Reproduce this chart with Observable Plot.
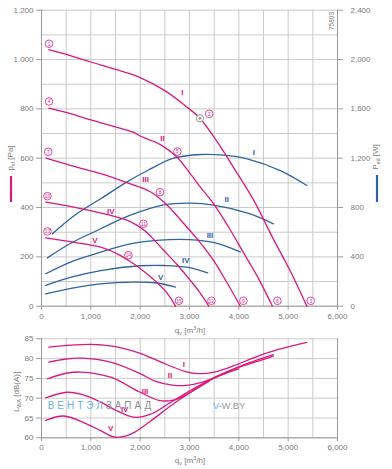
<!DOCTYPE html>
<html><head><meta charset="utf-8">
<script src="https://cdn.jsdelivr.net/npm/d3@7"></script>
<script src="https://cdn.jsdelivr.net/npm/@observablehq/plot@0.6"></script>
<style>
html,body{margin:0;padding:0;background:#fff;}
#wrap{position:relative;width:392px;height:469px;overflow:hidden;font-family:"Liberation Sans",Arial,sans-serif;}
#wrap svg{position:absolute;left:0;}
</style></head><body><div id="wrap"></div>
<script>
// ---------- data ----------
const xTicks = [0,1000,2000,3000,4000,5000,6000];
const paTicks = [0,200,400,600,800,1000,1200];
const dbTicks = [60,65,70,75,80,85];
const speeds = ["I","II","III","IV","V"];

// static pressure p_sf [Pa] vs q_v [m3/h]
const pI = [[150,1040],[600,1015],[1000,990],[1500,960],[2000,927],[2500,874],[2900,815],[3210,762],[3600,655],[3900,560],[4300,430],[4700,272],[5050,140],[5380,0]];
const pII = [[150,803],[600,780],[1000,755],[1500,727],[1870,705],[2000,690],[2410,655],[2750,604],[2950,555],[3200,488],[3490,415],[3800,318],[4100,215],[4400,112],[4680,0]];
const pIII = [[90,600],[600,570],[1200,537],[1700,503],[2200,465],[2480,422],[2700,377],[2950,320],[3200,262],[3490,185],[3760,95],[4030,0]];
const pIV = [[85,422],[700,400],[1400,368],[1800,343],[2100,305],[2480,226],[2750,168],[3020,104],[3200,58],[3390,0]];
const pV = [[85,277],[700,258],[1200,239],[1536,212],[1806,180],[2008,152],[2346,95],[2550,52],[2717,0]];

// power P_ed [W]
const wI = [[220,587],[700,745],[1200,871],[1700,1000],[2150,1100],[2680,1200],[3220,1230],[3700,1225],[4170,1195],[4840,1100],[5380,979]];
const wII = [[120,392],[600,512],[1200,628],[1800,738],[2480,822],[3000,835],[3490,820],[4200,752],[4700,668]];
const wIII = [[85,263],[600,360],[1200,438],[1800,505],[2400,536],[3000,540],[3500,515],[4030,440]];
const wIV = [[85,168],[600,235],[1200,289],[2000,328],[2500,330],[2950,316],[3370,270]];
const wV = [[85,100],[600,145],[1200,181],[1850,195],[2300,190],[2717,154]];

// sound power L_WA [dB(A)]
const sI = [[150,82.9],[600,83.4],[1000,83.6],[1500,83.0],[2000,81.3],[2500,78.7],[2900,76.8],[3200,76.2],[3500,76.6],[3900,78.2],[4300,80.2],[4800,82.3],[5380,84.1]];
const sII = [[150,79.1],[500,79.9],[800,80.1],[1400,79.1],[2000,76.2],[2300,74.3],[2650,73.3],[2900,73.2],[3300,74.2],[3700,76.3],[4200,78.9],[4700,81.0]];
const sIII = [[120,74.9],[500,76.3],[800,76.6],[1400,75.3],[2000,71.5],[2400,69.4],[2700,69.6],[3000,71.3],[3400,74.5],[3800,76.9],[4200,78.6],[4700,80.6]];
const sIV = [[85,70.1],[520,71.5],[800,71.0],[1200,69.0],[1500,67.0],[1870,65.2],[2200,65.9],[2600,68.8],[3000,71.8],[3400,74.5],[3800,76.6],[4000,77.4]];
const sV = [[85,64.4],[450,65.5],[900,63.6],[1200,61.8],[1470,60.2],[1700,60.4],[1900,61.5],[2210,64.2],[2600,67.9],[3000,71.3],[3400,74.3]];

// operating point markers
const markerNums = ["1","4","7","10","13","2","5","8","11","14","3","6","9","12","15"];
const markerQ = [152,152,136,120,120,3400,2755,2402,2066,1761,5457,4782,4093,3444,2787];
const markerP = [1064,830,626,446,303,780,627,462,334,207,22,22,22,22,22];
const greyPoint = [[3213,762]];

// curve label positions
const pLabelPos = [[2856,868],[2451,679],[2112,512],[1403,384],[1084,266]];
const wLabelPos = [[4307,1249],[3754,866],[3415,573],[2923,371],[2416,235]];
const sLabelPos = [[2888,78.5],[2605,75.8],[2098,71.7],[1686,67.1],[1403,62.4]];

// ---------- build tables ----------
const toRows = (series, key) => series.flatMap((s,i)=> s.map(([q,v])=>({speed:speeds[i], q, [key]:v})));
const pressure = toRows([pI,pII,pIII,pIV,pV], "p");
const power = toRows([wI,wII,wIII,wIV,wV], "w");
const sound = toRows([sI,sII,sIII,sIV,sV], "db");
const markers = markerNums.map((n,i)=>({n, q:markerQ[i], p:markerP[i]}));
const pLabels = speeds.map((s,i)=>({s, q:pLabelPos[i][0], p:pLabelPos[i][1]}));
const wLabels = speeds.map((s,i)=>({s, q:wLabelPos[i][0], w:wLabelPos[i][1]}));
const sLabels = speeds.map((s,i)=>({s, q:sLabelPos[i][0], db:sLabelPos[i][1]}));

const PINK = "#d8197f", BLUE = "#2f63a3", GRID = "#cacaca", AX = "#9a9a9a", TXT = "#7a7a7a";
const FONT = "'Liberation Sans', Arial, sans-serif";
const fmt = d3.format(",");
const fmtLeft = d => d >= 1000 ? fmt(d).replace(",", ".") : String(d);

const baseStyle = {background:"transparent", fontFamily: FONT, fontSize:"8px", color: TXT, overflow:"visible"};

// ---------- top chart ----------
const topChart = Plot.plot({
  width: 392, height: 340,
  marginLeft: 41, marginRight: 55, marginTop: 9.7, marginBottom: 34.3,
  x: {domain:[0,6000]}, y: {domain:[0,1200]},
  style: baseStyle,
  marks: [
    Plot.gridX(d3.range(0,6001,500), {stroke: GRID, strokeOpacity: 1}),
    Plot.gridY(d3.range(0,1201,100), {stroke: GRID, strokeOpacity: 1}),
    Plot.ruleX([0,6000], {stroke: AX}),
    Plot.ruleY([0], {stroke: AX}),
    Plot.axisY(paTicks, {anchor:"left", tickSize:5, tickPadding:3, tickFormat: fmtLeft, label:null, stroke: AX, fill: TXT}),
    Plot.axisY(paTicks, {anchor:"right", tickSize:5, tickPadding:8, tickFormat: d => fmt(d*2), label:null, stroke: AX, fill: TXT, textAnchor:"start"}),
    Plot.axisX(xTicks, {anchor:"bottom", tickSize:4, tickPadding:3, tickFormat: fmt, label:null, stroke: AX, fill: TXT}),
    Plot.line(power, {x:"q", y: d => d.w/2, z:"speed", stroke: BLUE, strokeWidth: 1.3, curve:"catmull-rom"}),
    Plot.line(pressure, {x:"q", y:"p", z:"speed", stroke: PINK, strokeWidth: 1.3, curve:"catmull-rom"}),
    Plot.dot(greyPoint, {x: d=>d[0], y: d=>d[1], r: 3.6, fill:"#fff", stroke:"#888", strokeWidth: 0.9}),
    Plot.dot(greyPoint, {x: d=>d[0], y: d=>d[1], r: 1.4, fill:"#999"}),
    Plot.dot(markers, {x:"q", y:"p", r: 3.8, fill:"#fff", stroke: PINK, strokeWidth: 0.8}),
    Plot.text(markers, {x:"q", y:"p", text:"n", fill: PINK, fontSize: 4.8, dy: 0.3}),
    Plot.text(pLabels, {x:"q", y:"p", text:"s", fill: PINK, fontSize: 8, fontWeight:"bold"}),
    Plot.text(wLabels, {x:"q", y: d => d.w/2, text:"s", fill: BLUE, fontSize: 8, fontWeight:"bold"})
  ]
});
topChart.style.top = "0px";

// ---------- bottom chart ----------
const bottomChart = Plot.plot({
  width: 392, height: 149,
  marginLeft: 41, marginRight: 55, marginTop: 18.3, marginBottom: 31.7,
  x: {domain:[0,6000]}, y: {domain:[60,85]},
  style: baseStyle,
  marks: [
    Plot.gridX(d3.range(0,6001,500), {stroke: GRID, strokeOpacity: 1}),
    Plot.gridY(dbTicks, {stroke: GRID, strokeOpacity: 1}),
    Plot.ruleX([0,6000], {stroke: AX}),
    Plot.ruleY([60], {stroke: AX}),
    Plot.axisY(dbTicks, {anchor:"left", tickSize:5, tickPadding:3, label:null, stroke: AX, fill: TXT}),
    Plot.axisX(xTicks, {anchor:"bottom", tickSize:4, tickPadding:3, tickFormat: fmt, label:null, stroke: AX, fill: TXT}),
    Plot.line(sound, {x:"q", y:"db", z:"speed", stroke: PINK, strokeWidth: 1.3, curve:"catmull-rom"}),
    Plot.text(sLabels, {x:"q", y:"db", text:"s", fill: PINK, fontSize: 8, fontWeight:"bold"})
  ]
});
bottomChart.style.top = "320px";

const wrap = document.getElementById("wrap");
wrap.appendChild(topChart);
wrap.appendChild(bottomChart);

// ---------- extra texts ----------
function rotLabel(svg, x, y, main, sub, rest) {
  const t = d3.select(svg).append("text")
    .attr("transform", `translate(${x},${y}) rotate(-90)`)
    .attr("text-anchor","middle").attr("font-size", 8).attr("fill", TXT).attr("font-family", FONT);
  t.append("tspan").text(main);
  t.append("tspan").attr("font-size", 5.5).attr("dy", 2).text(sub);
  t.append("tspan").attr("dy", -2).text(rest);
}
function xLabel(svg, x, y) {
  const t = d3.select(svg).append("text")
    .attr("x", x).attr("y", y).attr("text-anchor","middle")
    .attr("font-size", 8).attr("fill", TXT).attr("font-family", FONT);
  t.append("tspan").text("q");
  t.append("tspan").attr("font-size", 5.5).attr("dy", 2).text("v");
  t.append("tspan").attr("dy", -2).text(" [m");
  t.append("tspan").attr("font-size", 5.5).attr("dy", -3).text("3");
  t.append("tspan").attr("dy", 3).text("/h]");
}
rotLabel(topChart, 13, 158, "p", "sf", " [Pa]");
d3.select(topChart).append("line").attr("x1",11).attr("x2",11).attr("y1",176).attr("y2",202).attr("stroke",PINK).attr("stroke-width",2.2);
rotLabel(topChart, 378, 157, "P", "ed", " [W]");
d3.select(topChart).append("line").attr("x1",377).attr("x2",377).attr("y1",175).attr("y2",202).attr("stroke",BLUE).attr("stroke-width",2.2);
xLabel(topChart, 190, 333);
d3.select(topChart).append("text").attr("transform","translate(334,12) rotate(-90)")
  .attr("text-anchor","end").attr("font-size",6.5).attr("fill",TXT).attr("font-family",FONT).text("75803");

rotLabel(bottomChart, 19, 72, "L", "WA", " [dB(A)]");
xLabel(bottomChart, 190, 143);

// watermark
const wm = d3.select(bottomChart).append("text").attr("x", 101).attr("y", 89)
  .attr("font-size", 10).attr("letter-spacing", "3px").attr("font-family", FONT);
wm.append("tspan").attr("fill","#6aaee2").text("ВЕНТЭЛ");
wm.append("tspan").attr("fill","#8c8c8c").text("ЗАПАД");
const wm2 = d3.select(bottomChart).append("text").attr("x", 229).attr("y", 89)
  .attr("font-size", 9.5).attr("font-family", FONT);
wm2.append("tspan").attr("fill","#6aaee2").text("V-");
wm2.append("tspan").attr("fill","#9a9a9a").text("W.BY");
</script></body></html>
